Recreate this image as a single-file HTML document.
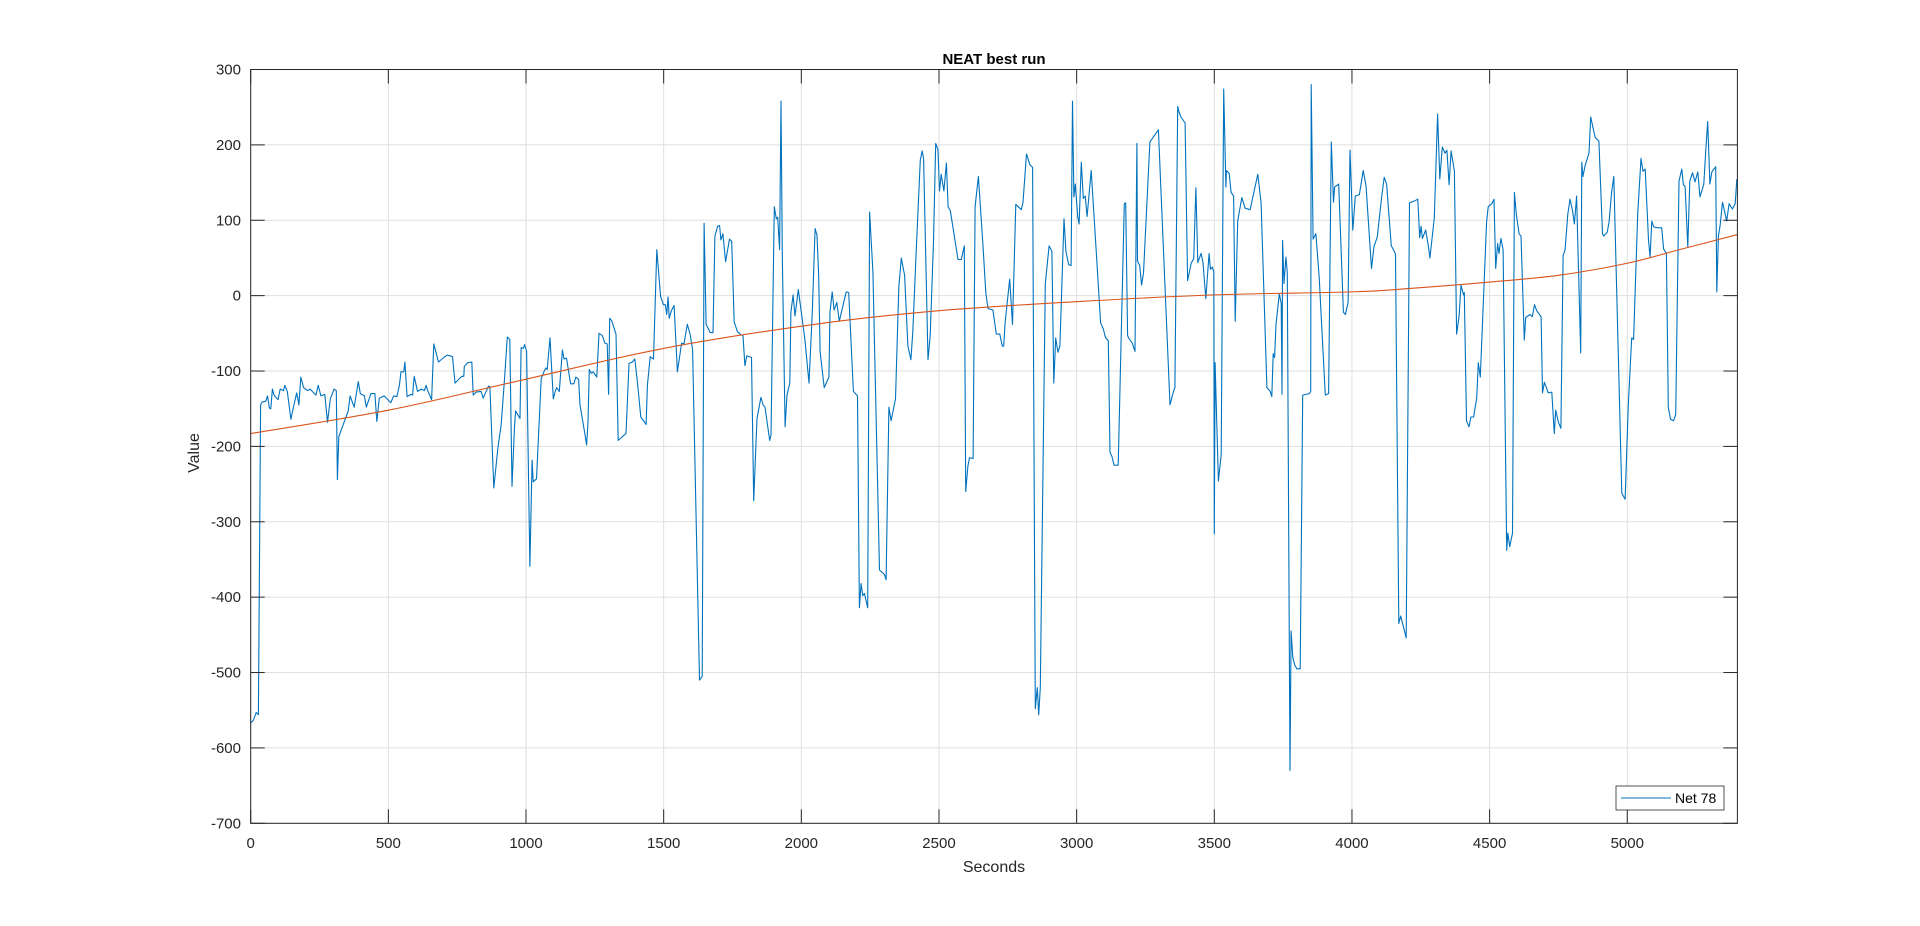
<!DOCTYPE html>
<html><head><meta charset="utf-8"><title>NEAT best run</title>
<style>
html,body{margin:0;padding:0;background:#fff;}
svg{display:block;font-family:"Liberation Sans",Arial,sans-serif;}
</style></head>
<body>
<svg id="chart" width="1920" height="926" viewBox="0 0 1920 926" xmlns="http://www.w3.org/2000/svg">
<rect width="1920" height="926" fill="#fff"/>
<g id="grid"></g>
<g id="series"></g>
<g id="axes"></g>
<text x="994" y="64" text-anchor="middle" font-size="15" font-weight="bold" fill="#000">NEAT best run</text>
<text x="994" y="872" text-anchor="middle" font-size="16" fill="#262626">Seconds</text>
<text x="0" y="0" transform="translate(199,453) rotate(-90)" text-anchor="middle" font-size="16" fill="#262626">Value</text>
<g>
<rect x="1616" y="786" width="108" height="24" fill="#fff" stroke="#262626" stroke-width="0.8"/>
<line x1="1621" y1="798" x2="1671" y2="798" stroke="#0072BD" stroke-width="1"/>
<text x="1675" y="803" font-size="14" fill="#000">Net 78</text>
</g>
</svg>
<script>
const xTicks=[0,500,1000,1500,2000,2500,3000,3500,4000,4500,5000];
const yTicks=[300,200,100,0,-100,-200,-300,-400,-500,-600,-700];
const secs=[0,10,20,28,36,42,55,61,68,73,79,85,99,107,119,124,133,146,155,167,175,182,192,206,216,237,245,255,269,279,289,303,311,315,320,346,354,361,376,391,398,413,420,437,451,458,467,485,509,519,531,540,546,556,560,568,582,588,594,606,619,631,637,643,657,665,682,701,713,725,733,742,758,767,774,776,788,803,808,819,837,844,855,864,869,883,898,910,922,932,941,949,958,962,970,978,982,990,995,1002,1014,1022,1026,1038,1055,1065,1072,1077,1087,1099,1106,1111,1121,1132,1138,1147,1162,1174,1181,1191,1196,1213,1220,1225,1230,1237,1244,1257,1265,1277,1286,1295,1300,1304,1311,1327,1335,1350,1363,1374,1386,1395,1405,1417,1429,1436,1441,1451,1463,1475,1489,1499,1506,1511,1516,1520,1528,1538,1550,1565,1574,1586,1596,1605,1630,1640,1647,1654,1669,1679,1686,1696,1703,1708,1715,1725,1739,1747,1756,1768,1781,1788,1795,1802,1819,1827,1839,1853,1861,1868,1885,1890,1902,1909,1914,1921,1926,1931,1941,1948,1958,1962,1970,1977,1989,2001,2013,2028,2040,2050,2057,2063,2068,2083,2100,2104,2112,2119,2129,2138,2163,2172,2189,2204,2211,2217,2223,2229,2241,2248,2260,2284,2302,2308,2318,2326,2342,2354,2363,2375,2387,2398,2405,2417,2432,2439,2444,2460,2468,2480,2488,2496,2502,2508,2518,2527,2533,2541,2569,2581,2592,2597,2605,2611,2624,2631,2643,2660,2670,2678,2696,2708,2721,2730,2735,2740,2747,2757,2767,2779,2799,2805,2818,2830,2840,2850,2857,2862,2868,2886,2900,2910,2917,2924,2932,2939,2954,2961,2971,2980,2985,2990,2995,3004,3009,3017,3024,3031,3038,3053,3070,3087,3097,3104,3115,3121,3128,3136,3151,3173,3178,3185,3190,3202,3212,3219,3221,3229,3236,3243,3266,3297,3339,3351,3357,3367,3372,3379,3394,3403,3416,3425,3433,3440,3452,3459,3469,3481,3486,3493,3498,3500,3503,3515,3525,3534,3542,3544,3554,3561,3570,3576,3585,3600,3612,3630,3658,3670,3691,3703,3709,3714,3719,3724,3736,3743,3746,3748,3753,3760,3765,3775,3779,3785,3792,3800,3812,3821,3845,3850,3852,3859,3869,3881,3903,3915,3925,3933,3937,3952,3969,3976,3986,3993,4003,4012,4027,4041,4051,4071,4080,4092,4107,4117,4126,4143,4151,4158,4170,4177,4197,4209,4229,4239,4246,4251,4256,4268,4277,4283,4299,4311,4319,4328,4338,4345,4353,4360,4372,4380,4389,4396,4405,4408,4416,4425,4432,4442,4453,4459,4466,4489,4495,4508,4516,4522,4529,4534,4541,4549,4562,4566,4573,4583,4590,4597,4607,4614,4626,4631,4647,4655,4663,4671,4687,4692,4699,4713,4726,4735,4740,4750,4759,4767,4774,4784,4792,4801,4808,4816,4822,4831,4835,4839,4847,4861,4867,4883,4897,4910,4914,4927,4934,4943,4951,4980,4992,5004,5016,5023,5038,5050,5057,5065,5077,5083,5089,5096,5113,5125,5132,5142,5149,5157,5168,5176,5188,5198,5204,5210,5220,5227,5237,5246,5256,5264,5278,5285,5292,5300,5307,5321,5325,5331,5337,5346,5361,5370,5382,5392,5398,5400];
const vals=[-567,-563,-553,-556,-145,-141,-140,-133,-149,-150,-124,-132,-138,-124,-126,-119,-127,-164,-148,-129,-145,-108,-122,-126,-124,-132,-119,-133,-131,-168,-137,-124,-126,-244,-187,-161,-153,-133,-148,-114,-130,-133,-148,-130,-130,-167,-136,-133,-142,-133,-134,-119,-101,-101,-88,-134,-131,-132,-107,-127,-124,-126,-119,-126,-138,-64,-88,-82,-79,-80,-81,-116,-110,-107,-107,-94,-89,-88,-132,-128,-127,-136,-127,-120,-121,-255,-202,-171,-111,-55,-58,-253,-174,-153,-158,-163,-69,-70,-65,-74,-359,-218,-247,-243,-110,-101,-96,-98,-56,-137,-127,-122,-127,-72,-84,-83,-117,-117,-108,-111,-145,-182,-198,-168,-98,-103,-101,-108,-50,-53,-63,-64,-131,-30,-33,-51,-192,-187,-183,-90,-88,-84,-116,-161,-167,-171,-119,-81,-84,61,-1,-12,-12,-25,-2,-30,-20,-13,-101,-63,-64,-38,-51,-72,-510,-505,96,-38,-49,-49,79,92,93,74,82,45,75,72,-35,-48,-52,-53,-93,-80,-82,-272,-163,-135,-145,-148,-192,-185,118,102,104,61,258,53,-174,-132,-116,-22,1,-27,8,-25,-58,-116,-22,89,80,25,-74,-122,-108,-22,5,-19,-9,-34,5,4,-127,-133,-414,-382,-398,-395,-414,111,32,-364,-370,-377,-148,-166,-137,11,50,27,-67,-85,-48,56,180,192,181,-85,-53,72,202,194,139,161,139,176,118,113,48,48,66,-260,-226,-215,-216,118,158,66,4,-17,-19,-51,-51,-67,-67,-36,-12,22,-38,121,114,124,188,174,170,-548,-520,-556,-520,16,66,59,-116,-56,-75,-67,102,59,41,40,258,131,148,105,95,177,129,132,105,166,66,-36,-44,-55,-60,-208,-213,-225,-225,122,123,-53,-57,-63,-74,202,46,40,14,30,204,220,-145,-128,-122,251,243,237,229,20,43,49,143,44,56,44,-4,56,35,38,31,-316,-89,-246,-211,274,144,166,162,137,132,-34,99,130,116,114,161,123,-122,-127,-134,-77,-82,-38,2,-10,-131,73,16,51,30,-630,-445,-480,-490,-495,-495,-132,-130,-127,280,75,82,24,-132,-130,204,124,144,148,-22,-25,-9,193,87,132,134,166,146,36,65,78,128,157,148,66,61,55,-435,-425,-454,123,126,128,77,92,76,87,67,50,103,241,155,197,189,193,147,192,165,-51,-27,14,1,4,-166,-174,-161,-161,-136,-89,-108,98,118,122,128,36,69,56,76,61,-338,-315,-333,-315,137,108,82,79,-59,-29,-25,-28,-12,-20,-28,-129,-115,-129,-128,-183,-152,-168,-176,53,61,108,128,113,95,132,45,-76,177,158,173,189,237,210,205,82,79,84,98,137,158,-262,-270,-142,-56,-58,108,182,165,168,74,51,99,91,90,90,62,56,-148,-164,-166,-158,152,168,147,145,65,152,163,151,164,131,148,191,231,148,164,171,5,79,93,124,99,122,115,122,154,151];
const trendX=[0,500,950,1500,2050,2500,3000,3500,4000,4229,4500,4750,5000,5200,5400];
const trendY=[-183,-152,-115,-70,-38,-20,-8,1,5,10,18,27,43,62,81];

const NS='http://www.w3.org/2000/svg';
const L=250.7,R=1737.4,T=69.5,B=823.3;
const X0=0,X1=5400,Y0=-700,Y1=300;
function sx(s){return L+(s-X0)/(X1-X0)*(R-L);}
function sy(v){return B-(v-Y0)/(Y1-Y0)*(B-T);}
function mk(tag,attrs,parent){const e=document.createElementNS(NS,tag);for(const k in attrs)e.setAttribute(k,attrs[k]);parent.appendChild(e);return e;}
const grid=document.getElementById('grid'),axes=document.getElementById('axes'),series=document.getElementById('series');

xTicks.forEach(t=>{
  const x=sx(t);
  const g=mk('line',{x1:x,y1:T,x2:x,y2:B,stroke:'#dfdfdf','stroke-width':1},grid);
  
  
  const tb=mk('line',{x1:x,y1:B,x2:x,y2:B-14,stroke:'#262626','stroke-width':1},axes);
  
  
  const tt=mk('line',{x1:x,y1:T,x2:x,y2:T+14,stroke:'#262626','stroke-width':1},axes);
  
  
  const lb=mk('text',{x:x,y:848,'text-anchor':'middle','font-size':15,fill:'#262626'},axes);
  lb.textContent=String(t);
  
  
});
yTicks.forEach(t=>{
  const y=sy(t);
  const g=mk('line',{x1:L,y1:y,x2:R,y2:y,stroke:'#dfdfdf','stroke-width':1},grid);
  
  
  const tl=mk('line',{x1:L,y1:y,x2:L+14,y2:y,stroke:'#262626','stroke-width':1},axes);
  
  
  const tr=mk('line',{x1:R,y1:y,x2:R-14,y2:y,stroke:'#262626','stroke-width':1},axes);
  
  
  const lb=mk('text',{x:241,y:y+5,'text-anchor':'end','font-size':15,fill:'#262626'},axes);
  lb.textContent=String(t);
  
  
});
const box=mk('rect',{x:L,y:T,width:R-L,height:B-T,fill:'none',stroke:'#262626','stroke-width':1},axes);



const pts=secs.map((s,i)=>sx(s).toFixed(1)+','+sy(vals[i]).toFixed(1)).join(' ');
const pl=mk('polyline',{points:pts,fill:'none',stroke:'#0072BD','stroke-width':1.1,'stroke-linejoin':'round'},series);



// smooth trend (Catmull-Rom)
let d='M'+sx(trendX[0])+','+sy(trendY[0]);
for(let i=0;i<trendX.length-1;i++){
  const p0=i>0?i-1:i,p3=i+2<trendX.length?i+2:i+1;
  const x1=sx(trendX[i]),y1=sy(trendY[i]),x2=sx(trendX[i+1]),y2=sy(trendY[i+1]);
  const c1x=x1+(x2-sx(trendX[p0]))/6,c1y=y1+(y2-sy(trendY[p0]))/6;
  const c2x=x2-(sx(trendX[p3])-x1)/6,c2y=y2-(sy(trendY[p3])-y1)/6;
  d+=' C'+c1x+','+c1y+' '+c2x+','+c2y+' '+x2+','+y2;
}
const tp=mk('path',{d:d,fill:'none',stroke:'#D95319','stroke-width':1.1},series);


</script>
</body></html>
